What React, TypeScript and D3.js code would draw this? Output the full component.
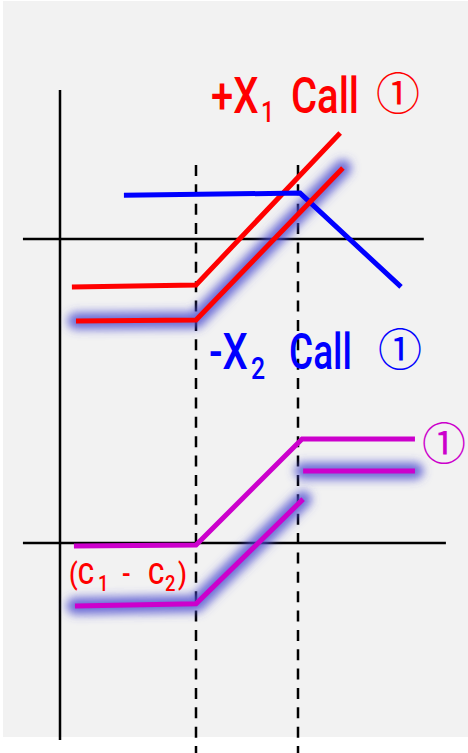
import React from "react";
import * as d3 from "d3";

// Payoff diagram data (price units on x, payoff units on y)
const strikes = [40, 70];
const longCallX1 = [[3.5, -14.1], [40, -13.5], [82.4, 31.2]];
const longCallX1Shifted = [[4.7, -24.1], [40, -23.8], [83.2, 20.9]];
const shortCallX2 = [[18.8, 12.9], [70.6, 13.5], [100.3, -14.1]];
const spreadPayoff = [[4.1, -0.9], [40, -0.6], [71.2, 30.6], [104.4, 30.6]];
const spreadProfitLow = [[4.4, -18.5], [40, -17.9], [71.5, 12.9]];
const spreadProfitHigh = [[71.5, 21.2], [104.4, 21.2]];
const upperAxisExtent = [-10.9, 107];
const lowerAxisExtent = [-10.9, 113.5];

const W = 468;
const H = 753;

export default function App() {
  const x = d3.scaleLinear().domain([0, 120]).range([60, 468]);
  const yU = d3.scaleLinear().domain([0, 100]).range([239, -101]);
  const yL = d3.scaleLinear().domain([0, 100]).range([543, 203]);
  const lineU = d3.line<number[]>().x((d) => x(d[0])).y((d) => yU(d[1]));
  const lineL = d3.line<number[]>().x((d) => x(d[0])).y((d) => yL(d[1]));

  const red = "#ff0000";
  const blue = "#0000ff";
  const mag = "#cc00cc";
  const glow = (d: string | null) => (
    <path d={d ?? ""} fill="none" stroke="#4a4ad0" strokeOpacity={0.8} strokeWidth={17} strokeLinecap="round" strokeLinejoin="round" filter="url(#blur)" />
  );
  const font = "Roboto, 'Liberation Sans', sans-serif";
  const circ = "'Noto Sans CJK JP', 'Noto Sans CJK SC', sans-serif";
  const T = (props: { x: number; y: number; s: number; sx?: number; fill: string; children: string; f?: string; w?: number }) => (
    <text transform={`translate(${props.x},${props.y}) scale(${props.sx ?? 0.8},1)`} fontSize={props.s} fill={props.fill} fontFamily={props.f ?? font} fontWeight={props.w ?? 500}>
      {props.children}
    </text>
  );

  return (
    <svg width={W} height={H} style={{ position: "fixed", left: 0, top: 0, display: "block", background: "#ffffff" }}>
      <defs>
        <filter id="blur" filterUnits="userSpaceOnUse" x={0} y={0} width={W} height={H}>
          <feGaussianBlur stdDeviation={5} />
        </filter>
      </defs>
      <rect x={3} y={1} width={465} height={736} fill="#f2f2f2" />

      {/* axes */}
      <line x1={x(0)} x2={x(0)} y1={90} y2={740} stroke="#000" strokeWidth={2.5} />
      <line x1={x(upperAxisExtent[0])} x2={x(upperAxisExtent[1])} y1={yU(0)} y2={yU(0)} stroke="#000" strokeWidth={2.5} />
      <line x1={x(lowerAxisExtent[0])} x2={x(lowerAxisExtent[1])} y1={yL(0)} y2={yL(0)} stroke="#000" strokeWidth={2.5} />
      {strikes.map((k) => (
        <line key={k} x1={x(k)} x2={x(k)} y1={165} y2={H} stroke="#000" strokeWidth={2.5} strokeDasharray="11,8.37" />
      ))}

      {/* glows */}
      {glow(lineU(longCallX1Shifted as any))}
      {glow(lineL(spreadProfitLow as any))}
      {glow(lineL(spreadProfitHigh as any))}

      {/* lines */}
      <path d={lineU(longCallX1 as any) ?? ""} fill="none" stroke={red} strokeWidth={5} />
      <path d={lineU(shortCallX2 as any) ?? ""} fill="none" stroke={blue} strokeWidth={5} />
      <path d={lineU(longCallX1Shifted as any) ?? ""} fill="none" stroke={red} strokeWidth={5} />
      <path d={lineL(spreadPayoff as any) ?? ""} fill="none" stroke={mag} strokeWidth={5} />
      <path d={lineL(spreadProfitLow as any) ?? ""} fill="none" stroke={mag} strokeWidth={5} />
      <path d={lineL(spreadProfitHigh as any) ?? ""} fill="none" stroke={mag} strokeWidth={5} />

      {/* labels */}
      <T x={211} y={113} s={50} fill={red}>+X</T>
      <T x={261} y={122} s={29} fill={red}>1</T>
      <T x={291} y={113} s={50} sx={0.8} fill={red}>Call</T>
      <T x={376} y={110} s={44} sx={1} w={400} fill={red} f={circ}>①</T>

      <T x={209} y={369} s={50} fill={blue}>-X</T>
      <T x={251} y={379} s={31} fill={blue}>2</T>
      <T x={289} y={369} s={50} sx={0.74} fill={blue}>Call</T>
      <T x={378} y={366} s={44} sx={1} w={400} fill={blue} f={circ}>①</T>

      <T x={422} y={460} s={44} sx={1} w={400} fill={mag} f={circ}>①</T>

      <T x={69} y={584} s={30} sx={0.84} fill={red}>(C</T>
      <T x={98} y={591} s={22} sx={0.84} fill={red}>1</T>
      <T x={122} y={584} s={30} sx={0.84} fill={red}>-</T>
      <T x={148} y={584} s={30} sx={0.84} fill={red}>C</T>
      <T x={165} y={591} s={22} sx={0.84} fill={red}>2</T>
      <T x={178} y={584} s={30} sx={0.84} fill={red}>)</T>
    </svg>
  );
}
